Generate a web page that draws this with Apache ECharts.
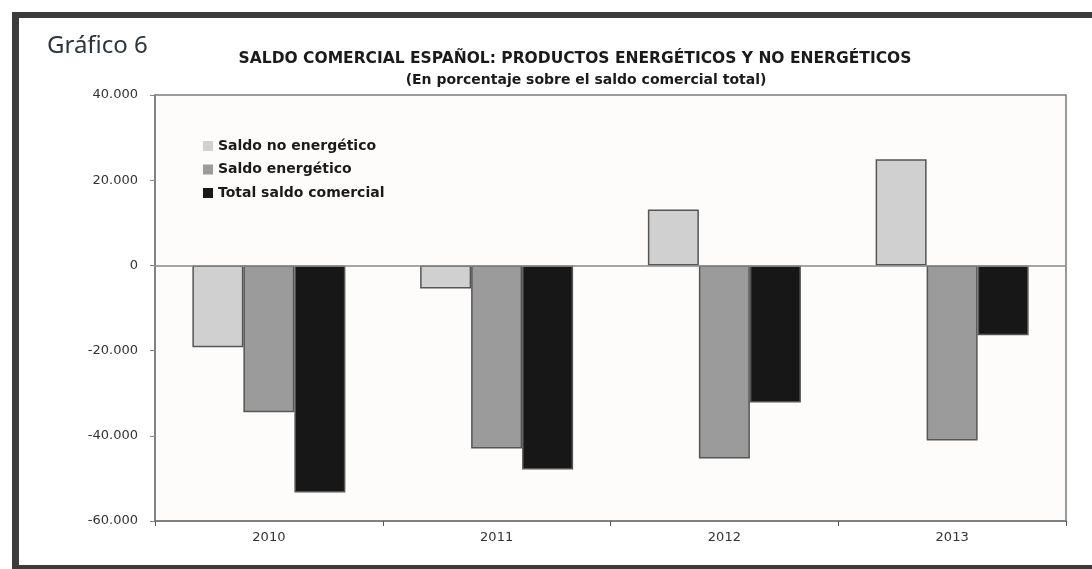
<!DOCTYPE html>
<html>
<head>
<meta charset="utf-8">
<script src="https://cdn.jsdelivr.net/npm/echarts@6/dist/echarts.min.js"></script>
<style>
  html, body { margin: 0; padding: 0; background: #fff; }
  #chart { width: 1092px; height: 569px; }
</style>
</head>
<body>
<div id="chart"></div>
<script>
var years = ['2010', '2011', '2012', '2013'];
var saldoNoEnergetico = [-19200, -5400, 13100, 24900];
var saldoEnergetico = [-34500, -43000, -45300, -41100];
var totalSaldo = [-53300, -47900, -32200, -16400];
var seriesNames = ['Saldo no energético', 'Saldo energético', 'Total saldo comercial'];

var myChart = echarts.init(document.getElementById('chart'));

function fmt(v) {
    // separador de miles con punto
    if (v === 0) return '0';
    var s = Math.abs(v).toString().replace(/\B(?=(\d{3})+(?!\d))/g, '.');
    return (v < 0 ? '-' : '') + s;
}

var barBorder = { borderColor: '#555', borderWidth: 1.5 };

var option = {
    backgroundColor: '#fff',
    animation: false,
    title: [
        {
            text: 'Gráfico 6',
            left: 42,
            top: 29,
            textStyle: { fontFamily: 'Noto Sans', fontSize: 24, fontWeight: 'normal', color: '#2d3440' }
        },
        {
            text: 'SALDO COMERCIAL ESPAÑOL: PRODUCTOS ENERGÉTICOS Y NO ENERGÉTICOS',
            left: 570,
            top: 46,
            textAlign: 'center',
            textStyle: { fontFamily: 'DejaVu Sans', fontSize: 15.5, fontWeight: 'bold', color: '#1a1a1a' }
        },
        {
            text: '(En porcentaje sobre el saldo comercial total)',
            left: 581,
            top: 68,
            textAlign: 'center',
            textStyle: { fontFamily: 'DejaVu Sans', fontSize: 14, fontWeight: 'bold', color: '#1a1a1a' }
        }
    ],
    legend: {
        orient: 'vertical',
        left: 198,
        top: 134,
        icon: 'rect',
        itemWidth: 10,
        itemHeight: 10,
        itemGap: 9.5,
        itemStyle: { borderWidth: 0 },
        data: seriesNames,
        textStyle: { fontFamily: 'DejaVu Sans', fontSize: 14, lineHeight: 14, fontWeight: 'bold', color: '#1a1a1a' }
    },
    grid: {
        left: 155,
        right: 26,
        top: 95,
        bottom: 48,
        show: true,
        backgroundColor: '#fdfcfa',
        borderColor: '#7a7a7a',
        borderWidth: 1.5
    },
    xAxis: {
        type: 'category',
        data: years,
        axisLine: { onZero: false, lineStyle: { color: '#7a7a7a', width: 1.5 } },
        axisTick: { show: true, length: 5, lineStyle: { color: '#555' } },
        axisLabel: { fontFamily: 'DejaVu Sans', fontSize: 13, color: '#333', margin: 10 }
    },
    yAxis: {
        type: 'value',
        min: -60000,
        max: 40000,
        interval: 20000,
        axisLine: { show: true, lineStyle: { color: '#7a7a7a', width: 1.5 } },
        axisTick: { show: true, length: 5, lineStyle: { color: '#888' } },
        splitLine: { show: false },
        axisLabel: {
            fontFamily: 'DejaVu Sans', fontSize: 13, color: '#333', margin: 17,
            formatter: fmt
        }
    },
    series: [
        {
            name: seriesNames[0],
            type: 'bar',
            data: saldoNoEnergetico,
            barWidth: 51,
            barGap: '0%',
            itemStyle: Object.assign({ color: '#d0d0d0' }, barBorder),
            markLine: {
                silent: true,
                symbol: 'none',
                label: { show: false },
                lineStyle: { color: '#8a8a8a', width: 1.5, type: 'solid' },
                data: [{ yAxis: 0 }]
            }
        },
        {
            name: seriesNames[1],
            type: 'bar',
            data: saldoEnergetico,
            barWidth: 51,
            barGap: '0%',
            itemStyle: Object.assign({ color: '#9a9b9a' }, barBorder)
        },
        {
            name: seriesNames[2],
            type: 'bar',
            data: totalSaldo,
            barWidth: 51,
            barGap: '0%',
            itemStyle: Object.assign({ color: '#171717' }, barBorder)
        }
    ],
    graphic: [
        { type: 'rect', shape: { x: 12, y: 12, width: 1080, height: 6 }, style: { fill: '#3c3c3c' } },
        { type: 'rect', shape: { x: 12, y: 12, width: 7, height: 557 }, style: { fill: '#3c3c3c' } },
        { type: 'rect', shape: { x: 12, y: 565, width: 1080, height: 4 }, style: { fill: '#3c3c3c' } }
    ]
};

myChart.setOption(option);
</script>
</body>
</html>
